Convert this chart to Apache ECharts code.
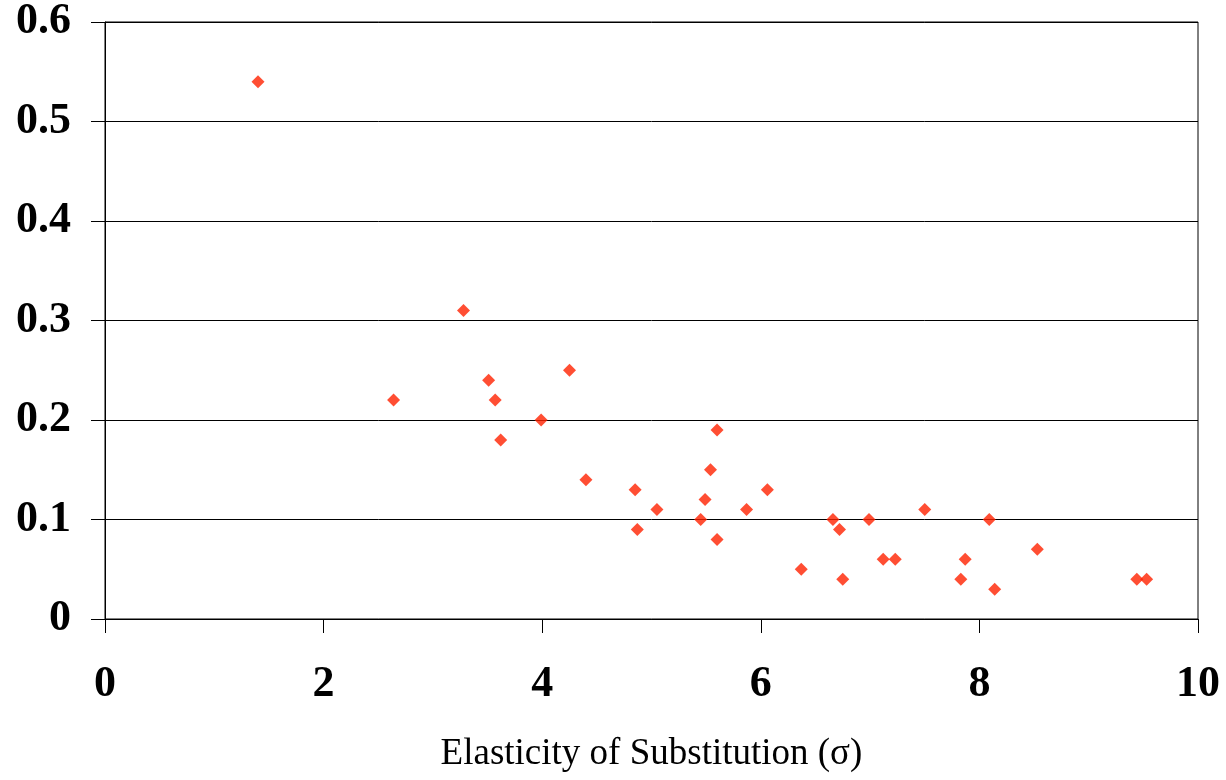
<!DOCTYPE html>
<html>
<head>
<meta charset="utf-8">
<script src="https://cdn.jsdelivr.net/npm/echarts@6/dist/echarts.min.js"></script>
<style>html,body{margin:0;padding:0;background:#fff}#c{width:1226px;height:780px}</style>
</head>
<body>
<div id="c"></div>
<script>
const xValues = [1.40, 2.64, 3.28, 3.51, 3.57, 3.62, 3.99, 4.25, 4.40, 4.85, 4.87, 5.05, 5.45, 5.49, 5.54, 5.60, 5.60, 5.87, 6.06, 6.37, 6.66, 6.72, 6.75, 6.99, 7.12, 7.23, 7.50, 7.83, 7.87, 8.09, 8.14, 8.53, 9.44, 9.53];
const yValues = [0.54, 0.22, 0.31, 0.24, 0.22, 0.18, 0.20, 0.25, 0.14, 0.13, 0.09, 0.11, 0.10, 0.12, 0.15, 0.19, 0.08, 0.11, 0.13, 0.05, 0.10, 0.09, 0.04, 0.10, 0.06, 0.06, 0.11, 0.04, 0.06, 0.10, 0.03, 0.07, 0.04, 0.04];
const xTicks = [0, 2, 4, 6, 8, 10];
const yTicks = [0, 0.1, 0.2, 0.3, 0.4, 0.5, 0.6];
const xTitle = 'Elasticity of Substitution (σ)';

const points = xValues.map((x, i) => [x, yValues[i]]);
const chart = echarts.init(document.getElementById('c'), null, {renderer: 'canvas'});
const font = '"Liberation Serif", "Times New Roman", serif';
chart.setOption({
  animation: false,
  grid: {left: 105, right: 28, top: 22, bottom: 161, show: true, borderColor: '#000', borderWidth: 1,
    backgroundColor: 'transparent', containLabel: false, outerBoundsMode: 'none'},
  xAxis: {
    type: 'value', min: xTicks[0], max: xTicks[xTicks.length - 1], interval: 2,
    name: xTitle, nameLocation: 'middle', nameGap: 117,
    nameTextStyle: {fontFamily: font, fontSize: 37, color: '#000'},
    axisLine: {show: true, onZero: false, lineStyle: {color: '#000', width: 1}},
    axisTick: {show: true, length: 14, inside: false, lineStyle: {color: '#000'}},
    axisLabel: {margin: 44, fontFamily: font, fontSize: 44, fontWeight: 'bold', color: '#000',
      formatter: v => xTicks.includes(v) ? String(v) : ''},
    splitLine: {show: false}
  },
  yAxis: {
    type: 'value', min: yTicks[0], max: yTicks[yTicks.length - 1], interval: 0.1,
    axisLine: {show: true, lineStyle: {color: '#000', width: 1}},
    axisTick: {show: true, length: 14, inside: false, lineStyle: {color: '#000'}},
    axisLabel: {margin: 34, fontFamily: font, fontSize: 44, fontWeight: 'bold', color: '#000',
      formatter: v => String(Math.round(v * 10) / 10)},
    splitLine: {show: true, lineStyle: {color: '#000', width: 1}}
  },
  series: [{
    type: 'scatter', data: points, symbol: 'diamond', symbolSize: 13,
    itemStyle: {color: '#ff2200'}
  }]
});
</script>
</body>
</html>
